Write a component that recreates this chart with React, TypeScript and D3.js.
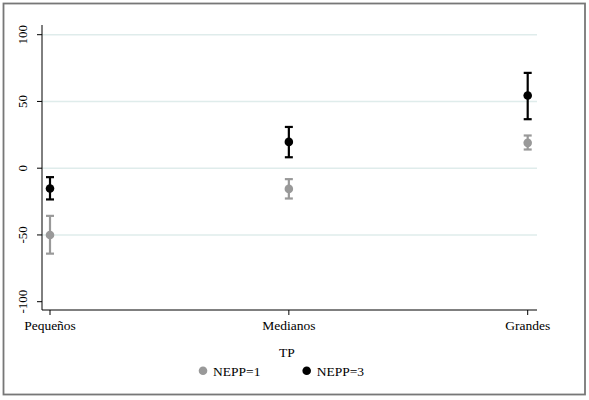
import React from "react";
import * as d3 from "d3";

const categories = ["Pequeños", "Medianos", "Grandes"];
const seriesNames = ["NEPP=1", "NEPP=3"];
const nepp1Mean = [-50, -15.5, 19];
const nepp1Lo = [-64, -22.7, 14];
const nepp1Hi = [-35.7, -8.2, 24.5];
const nepp3Mean = [-15.2, 19.7, 54.5];
const nepp3Lo = [-23.4, 8.2, 36.7];
const nepp3Hi = [-6.7, 30.9, 71.4];
const yTicks = [-100, -50, 0, 50, 100];
const gridValues = [-50, 0, 50, 100];
const seriesColors = ["#999999", "#000000"];

const W = 589;
const H = 400;
const FONT = "Liberation Serif, DejaVu Serif, serif";

export default function App() {
  const plotLeft = 42;
  const plotRight = 537;
  const y = d3.scaleLinear().domain([-100, 100]).range([301.7, 34.7]);
  const x = d3.scalePoint<string>().domain(categories).range([50, 527.7]);
  const axisBottom = 310;
  const axisTop = 25;

  const series = [
    { name: seriesNames[0], mean: nepp1Mean, lo: nepp1Lo, hi: nepp1Hi, color: seriesColors[0] },
    { name: seriesNames[1], mean: nepp3Mean, lo: nepp3Lo, hi: nepp3Hi, color: seriesColors[1] },
  ];

  const legendX = [203, 306.7];

  return (
    <svg width={W} height={H} style={{ position: "absolute", left: 0, top: 0, fontFamily: FONT }}>
      <rect x={0} y={0} width={W} height={H} fill="#fff" />
      <rect x={3.5} y={3.5} width={581.5} height={391} fill="none" stroke="#777" strokeWidth={1.8} />
      {gridValues.map((v) => (
        <line key={"g" + v} x1={plotLeft} x2={plotRight} y1={y(v)} y2={y(v)} stroke="#dfeceb" strokeWidth={1.6} />
      ))}
      <line x1={plotLeft} x2={plotLeft} y1={axisTop} y2={axisBottom} stroke="#000" strokeWidth={1} />
      <line x1={plotLeft} x2={plotRight} y1={axisBottom} y2={axisBottom} stroke="#000" strokeWidth={1} />
      {yTicks.map((v) => (
        <g key={"t" + v}>
          <line x1={plotLeft - 5} x2={plotLeft} y1={y(v)} y2={y(v)} stroke="#000" strokeWidth={1} />
          <text
            transform={`translate(27,${y(v)}) rotate(-90)`}
            textAnchor="middle"
            style={{ fontFamily: FONT, fontSize: "13px" }}
            fill="#000"
          >
            {v}
          </text>
        </g>
      ))}
      {categories.map((c) => (
        <g key={"x" + c}>
          <line x1={x(c)} x2={x(c)} y1={axisBottom} y2={axisBottom + 5} stroke="#000" strokeWidth={1} />
          <text x={x(c)} y={axisBottom + 20} textAnchor="middle" style={{ fontFamily: FONT, fontSize: "13.5px" }} fill="#000">
            {c}
          </text>
        </g>
      ))}
      {series.map((s) =>
        categories.map((c, i) => {
          const cx = x(c) as number;
          return (
            <g key={s.name + c}>
              <line x1={cx} x2={cx} y1={y(s.lo[i])} y2={y(s.hi[i])} stroke={s.color} strokeWidth={2.2} />
              <line x1={cx - 4} x2={cx + 4} y1={y(s.lo[i])} y2={y(s.lo[i])} stroke={s.color} strokeWidth={2.2} />
              <line x1={cx - 4} x2={cx + 4} y1={y(s.hi[i])} y2={y(s.hi[i])} stroke={s.color} strokeWidth={2.2} />
              <circle cx={cx} cy={y(s.mean[i])} r={4.3} fill={s.color} />
            </g>
          );
        })
      )}
      <text x={287} y={357} textAnchor="middle" style={{ fontFamily: FONT, fontSize: "13.5px" }} fill="#000">
        TP
      </text>
      {series.map((s, i) => (
        <g key={"l" + s.name}>
          <circle cx={legendX[i]} cy={370.7} r={4.3} fill={s.color} />
          <text x={legendX[i] + 10} y={375.5} style={{ fontFamily: FONT, fontSize: "13.5px" }} fill="#000">
            {s.name}
          </text>
        </g>
      ))}
    </svg>
  );
}
